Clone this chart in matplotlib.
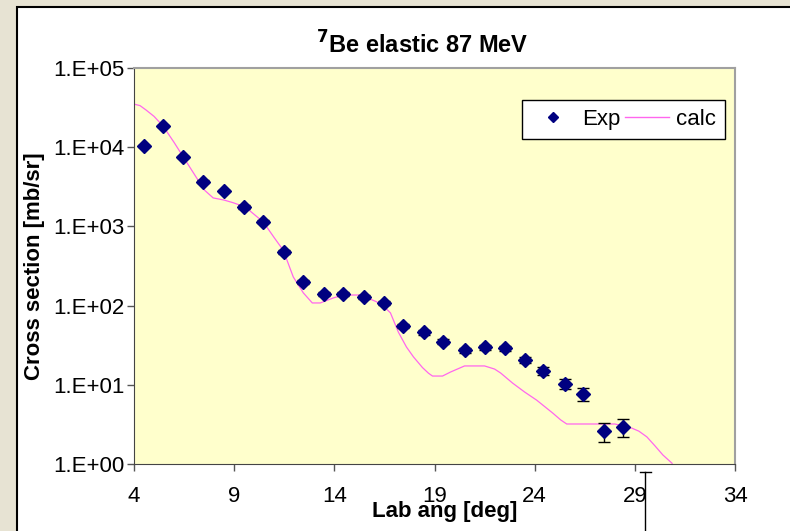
import numpy as np
import matplotlib.pyplot as plt
from matplotlib.lines import Line2D
from matplotlib.patches import Rectangle

plt.rcParams['font.family'] = ['Liberation Sans', 'DejaVu Sans']

# Experimental data (lab angle, cross section, asymmetric errors)
exp_angle = [4.5, 5.45, 6.45, 7.45, 8.5, 9.5, 10.45, 11.5, 12.45, 13.5, 14.45,
             15.5, 16.5, 17.45, 18.5, 19.4, 20.5, 21.5, 22.5, 23.5, 24.4,
             25.5, 26.4, 27.45, 28.4]
exp_xs = [10400, 18500, 7500, 3650, 2800, 1760, 1140, 475, 198, 140, 140,
          128, 108, 55, 46, 35, 27.5, 30, 29, 20.5, 15, 10.2, 7.6, 2.6, 2.9]
exp_err_lo = [400, 700, 300, 150, 120, 80, 50, 22, 10, 8, 8,
              7, 6, 3.5, 3, 2.5, 2, 2.2, 2.2, 1.8, 1.6, 1.4, 1.3, 0.7, 0.7]
exp_err_hi = [400, 700, 300, 150, 120, 80, 50, 22, 10, 8, 8,
              7, 6, 3.5, 3, 2.5, 2, 2.2, 2.2, 1.8, 1.6, 1.6, 1.5, 0.7, 0.8]

# Calculation curve
calc_angle = [4.0, 4.3, 4.6, 5.0, 5.45, 6.0, 6.45, 7.0, 7.5, 7.95, 8.5, 8.95, 9.55,
              10.45, 11.0, 11.45, 11.95, 12.45, 12.9, 13.3, 13.95, 14.45, 15.3, 16.1,
              16.5, 16.8, 17.2, 17.6, 17.95, 18.4, 18.7, 18.9, 19.4, 19.8, 20.5,
              21.5, 22.0, 22.3, 22.9, 23.5, 24.1, 24.9, 25.3, 25.6, 26.5, 27.4,
              28.0, 28.76, 29.2, 29.6, 30.0, 30.4, 30.86]
calc_xs = [35000, 33500, 29500, 24500, 18500, 11500, 7600, 4600, 2900, 2290, 2150,
           1990, 1760, 1140, 720, 500, 230, 145, 108, 108, 125, 136, 136, 112,
           96, 81, 46, 30, 22.5, 16.5, 14, 12.9, 12.9, 14.5, 17.3,
           17.3, 15.8, 14.1, 10.5, 8.1, 6.4, 4.4, 3.6, 3.2, 3.2, 3.2,
           3.2, 2.9, 2.6, 2.2, 1.7, 1.3, 1.02]

xticks = [4, 9, 14, 19, 24, 29, 34]
yticks = [1, 10, 100, 1000, 10000, 100000]
ytick_labels = ['1.E+00', '1.E+01', '1.E+02', '1.E+03', '1.E+04', '1.E+05']

fig = plt.figure(figsize=(7.9, 5.31), dpi=100)
fig.patch.set_facecolor('#E7E3D3')
fig.add_artist(Rectangle((17 / 790, -0.01), 1.0, (531 - 7) / 531 + 0.01,
                         transform=fig.transFigure, facecolor='white',
                         edgecolor='black', linewidth=1.5, zorder=0))

ax = fig.add_axes([134 / 790, (531 - 464) / 531, (735 - 134) / 790, (464 - 68) / 531])
ax.set_facecolor('#FFFFCC')
ax.set_yscale('log')
ax.set_xlim(4, 34)
ax.set_ylim(1, 1e5)

ax.plot(calc_angle, calc_xs, color='#FF66EE', linewidth=0.9, zorder=2)
ax.errorbar(exp_angle, exp_xs, yerr=[exp_err_lo, exp_err_hi], fmt='D',
            color='#000080', markersize=7, ecolor='black', elinewidth=1,
            capsize=4, capthick=1, zorder=3)

ax.set_xticks(xticks)
ax.set_xticklabels([str(t) for t in xticks])
ax.set_yticks(yticks)
ax.set_yticklabels(ytick_labels)
ax.minorticks_off()
ax.tick_params(axis='both', direction='out', length=5, width=1, color='#555555',
               labelsize=16)
ax.tick_params(axis='x', pad=11)
ax.tick_params(axis='y', pad=2)

for side in ['left', 'bottom']:
    ax.spines[side].set_color('#444444')
for side in ['top', 'right']:
    ax.spines[side].set_color('#A0A0A0')
    ax.spines[side].set_linewidth(1.5)

exp_handle = Line2D([], [], marker='D', linestyle='none', color='#000080', markersize=5)
calc_handle = Line2D([], [], color='#FF66EE', linewidth=1)
leg = ax.legend([exp_handle, calc_handle], ['Exp', 'calc'], ncol=2,
                loc='upper left', bbox_to_anchor=((522 - 134) / 601, (464 - 100) / 396),
                fontsize=16, frameon=True, fancybox=False, edgecolor='black',
                framealpha=1, borderpad=0.4, handlelength=2.0, columnspacing=0.2,
                handletextpad=0.3, borderaxespad=0)
leg.get_frame().set_linewidth(1)

fig.text(422 / 790, 1 - 45 / 531, r'$^{\mathbf{7}}$Be elastic 87 MeV', ha='center',
         va='center', fontsize=17, fontweight='bold')
fig.text(445 / 790, 1 - 512 / 531, 'Lab ang [deg]', ha='center', va='center',
         fontsize=16, fontweight='bold')
fig.text(35 / 790, 1 - 266 / 531, 'Cross section [mb/sr]', ha='center', va='center',
         rotation=90, fontsize=16, fontweight='bold')

# stray error bar below the plot area
fig.add_artist(Line2D([645 / 790, 645 / 790], [1 - 472 / 531, 0],
                      transform=fig.transFigure, color='black', linewidth=1))
fig.add_artist(Line2D([640 / 790, 651 / 790], [1 - 472 / 531, 1 - 472 / 531],
                      transform=fig.transFigure, color='black', linewidth=1))

fig.savefig('out.png', dpi=100, facecolor=fig.get_facecolor())
